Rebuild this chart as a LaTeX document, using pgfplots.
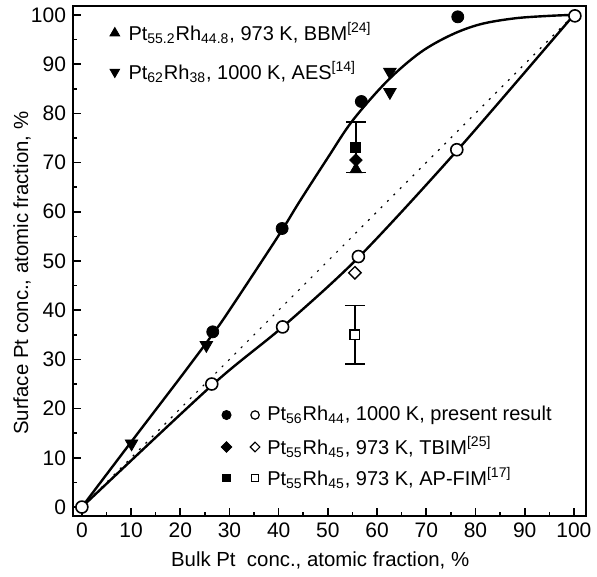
\documentclass[border=0pt]{standalone}
\usepackage{fontspec}
\setmainfont{Liberation Sans}
\usepackage{pgfplots}
\pgfplotsset{compat=1.18}
\begin{document}
\begin{tikzpicture}
\begin{axis}[
    scale only axis, width=256.4pt, height=255pt,
    xmin=-1.8, xmax=102.4, ymin=-1.8, ymax=101.8,
    xtick={0,10,...,100}, ytick={0,10,...,100},
    minor x tick num=1, minor y tick num=1,
    tick pos=left, tick align=inside,
    major tick length=4pt, minor tick length=2pt,
    axis line style={line width=1.1pt},
    every tick/.style={line width=0.8pt, black},
    ticklabel style={font=\fontsize{10.5}{12}\selectfont},
    /pgf/number format/assume math mode=true,
    xlabel={Bulk Pt\ \ conc., atomic fraction, \%},
    ylabel={Surface Pt conc., atomic fraction, \%},
    label style={font=\fontsize{10.2}{12}\selectfont},
    xlabel style={at={(rel axis cs:0.482,-0.088)}, anchor=center},
    ylabel style={at={(rel axis cs:-0.0995,0.476)}, anchor=center},
    clip=false,
]
% diagonal (ideal solution)
\addplot[black, line width=0.6pt, dash pattern=on 1pt off 3.5pt] coordinates {(0,0)(100,100)};

% upper curve (first layer)
\addplot[black, line width=1.2pt, smooth, tension=0.55] coordinates {
    (0,0)(10,13.2)(20,26.3)(26.5,35)(30,40)(40,55.2)(44.2,62)(50,71)(55,78.5)
    (62,86.5)(68.7,92.3)(75,95.9)(81,98.1)(88,99.3)(95,99.8)(100,100)
};
% lower curve (surface layer)
\addplot[black, line width=1.2pt, smooth, tension=0.5] coordinates {
    (0,0)(26.5,24.8)(40.8,36.6)(56.3,50.8)(76.4,72.6)(100,100)
};

% error bars
\addplot[black, line width=0.7pt, only marks, mark=square*, mark size=2.4pt,
    error bars/.cd, y dir=both, y explicit,
    error bar style={line width=0.7pt},
    error mark options={rotate=90, mark size=5pt, line width=0.7pt}]
    coordinates {(55.7,73.1) +- (0,5.1)};
\addplot[black, line width=0.7pt, only marks, mark=square*, mark size=2.4pt, mark options={fill=white},
    error bars/.cd, y dir=both, y explicit,
    error bar style={line width=0.7pt},
    error mark options={rotate=90, mark size=5pt, line width=0.7pt}]
    coordinates {(55.5,35) +- (0,5.9)};

% filled circles
\addplot[black, only marks, mark=*, mark size=3pt] coordinates {
    (26.6,35.6)(40.7,56.6)(56.8,82.4)(76.4,99.6)
};
% open circles
\addplot[black, only marks, mark=*, mark size=3pt, mark options={fill=white, line width=0.8pt}] coordinates {
    (0,0)(26.4,25)(40.8,36.6)(56.2,50.9)(76.2,72.6)(100.2,99.8)
};
% AES down triangles
\addplot[black, only marks, mark=triangle*, mark size=3.6pt, mark options={rotate=180}] coordinates {
    (10.1,12.9)(25.3,32.9)(62.6,88.4)(62.6,84.3)
};
% BBM up triangle
\addplot[black, only marks, mark=triangle*, mark size=3.4pt] coordinates {(55.7,68.6)};
% TBIM diamonds
\addplot[black, only marks, mark=square*, mark size=2.2pt, mark options={rotate=45}] coordinates {(55.7,70.5)};
\addplot[black, only marks, mark=square*, mark size=2.2pt, mark options={rotate=45, fill=white, line width=0.7pt}] coordinates {(55.5,47.6)};

% legend markers
\addplot[black, only marks, mark=triangle*, mark size=2.8pt] coordinates {(6.7,96.3)};
\addplot[black, only marks, mark=triangle*, mark size=2.8pt, mark options={rotate=180}] coordinates {(6.7,88.4)};
\addplot[black, only marks, mark=*, mark size=2.3pt] coordinates {(29.4,18.7)};
\addplot[black, only marks, mark=*, mark size=2.1pt, mark options={fill=white, line width=0.6pt}] coordinates {(35.2,18.7)};
\addplot[black, only marks, mark=square*, mark size=1.9pt, mark options={rotate=45}] coordinates {(29.4,12.2)};
\addplot[black, only marks, mark=square*, mark size=1.7pt, mark options={rotate=45, fill=white, line width=0.6pt}] coordinates {(35.2,12.2)};
\addplot[black, only marks, mark=square*, mark size=1.9pt] coordinates {(29.4,5.9)};
\addplot[black, only marks, mark=square*, mark size=1.8pt, mark options={fill=white, line width=0.6pt}] coordinates {(35.2,5.9)};

\begin{scope}[every node/.style={anchor=west, inner sep=0pt, font=\fontsize{10}{12}\selectfont}]
\node at (axis cs:9.4,96.3) {Pt\textsubscript{55.2}Rh\textsubscript{44.8}, 973 K, BBM\textsuperscript{[24]}};
\node at (axis cs:9.4,88.4) {Pt\textsubscript{62}Rh\textsubscript{38}, 1000 K, AES\textsuperscript{[14]}};
\node at (axis cs:37.6,18.7) {Pt\textsubscript{56}Rh\textsubscript{44}, 1000 K, present result};
\node at (axis cs:37.6,12.2) {Pt\textsubscript{55}Rh\textsubscript{45}, 973 K, TBIM\textsuperscript{[25]}};
\node at (axis cs:37.6,5.9) {Pt\textsubscript{55}Rh\textsubscript{45}, 973 K, AP-FIM\textsuperscript{[17]}};
\end{scope}

\coordinate (bbl) at (rel axis cs:-0.1424,-0.1196);
\coordinate (btr) at (rel axis cs:1.0220,1.0118);
\end{axis}
\pgfresetboundingbox
\path (bbl) rectangle (btr);
\end{tikzpicture}
\end{document}
